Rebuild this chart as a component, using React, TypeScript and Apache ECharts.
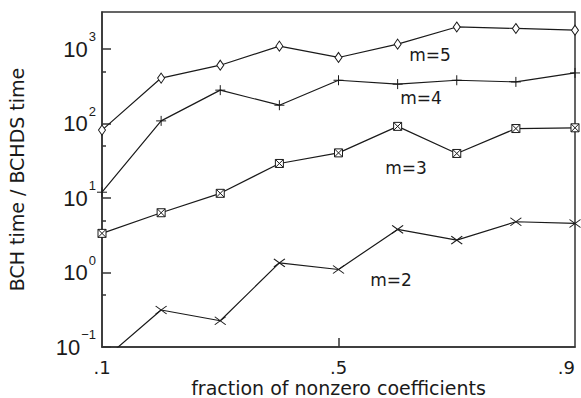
import React, { useEffect, useRef } from "react";
import * as echarts from "echarts";

const xValues = [0.1, 0.2, 0.3, 0.4, 0.5, 0.6, 0.7, 0.8, 0.9];
const m5 = [82, 410, 610, 1100, 775, 1170, 1990, 1900, 1800];
const m4 = [12, 109, 282, 177, 383, 340, 383, 364, 480];
const m3 = [3.36, 6.36, 11.6, 29.2, 40.5, 92, 39.8, 86, 88];
const m2 = [0.065, 0.314, 0.225, 1.35, 1.1, 3.8, 2.73, 4.81, 4.57];
const seriesNames = ["m=5", "m=4", "m=3", "m=2"];
const xLabelValues = [0.1, 0.5, 0.9];
const yLabelValues = [0.1, 1, 10, 100, 1000];
const yMinorValues = [0.5, 5, 50, 500];
const xTitle = "fraction of nonzero coefficients";
const yTitle = "BCH time / BCHDS time";

const INK = "#1a1a1a";
const SANS = "DejaVu Sans";

const SYM_DIAMOND = "diamond";
const SYM_PLUS = "path://M5 0V10M0 5H10";
const SYM_BOXX = "path://M0 0H10V10H0ZM0 0L10 10M10 0L0 10";
const SYM_X = "path://M0 0L10 10M10 0L0 10";

function pair(vals: number[]) {
  return vals.map((v, i) => [xValues[i], v]);
}

export default function App() {
  const ref = useRef<HTMLDivElement>(null);
  useEffect(() => {
    if (!ref.current) return;
    const chart = echarts.init(ref.current, null, { renderer: "svg" });
    const lineStyle = { color: INK, width: 1.2 };
    const mk = (name: string, data: number[], symbol: string, size: any) => ({
      name,
      type: "line",
      data: pair(data),
      symbol,
      symbolSize: size,
      showAllSymbol: true,
      clip: true,
      lineStyle,
      itemStyle: { color: "#fff", borderColor: INK, borderWidth: 1 },
      z: 3,
    });
    chart.setOption({
      animation: false,
      backgroundColor: "#fff",
      grid: {
        left: 102,
        top: 12,
        right: 6,
        bottom: 51,
        containLabel: false,
        outerBoundsMode: "none",
        show: true,
        borderColor: "#333",
        borderWidth: 1.5,
        backgroundColor: "transparent",
      },
      xAxis: {
        type: "value",
        min: 0.1,
        max: 0.9,
        name: xTitle,
        nameLocation: "middle",
        nameMoveOverlap: false,
        nameGap: 31,
        nameTextStyle: { fontFamily: SANS, fontSize: 19, lineHeight: 19, color: INK },
        axisLine: { show: true, lineStyle: { color: "#333", width: 1.5 } },
        axisTick: {
          show: true,
          inside: true,
          length: 9,
          customValues: [0.5],
          lineStyle: { color: "#333", width: 1.5 },
        },
        axisLabel: {
          customValues: xLabelValues,
          margin: 11,
          fontFamily: SANS,
          fontSize: 18,
          lineHeight: 18,
          color: INK,
          alignMaxLabel: "right",
          formatter: (v: number) => String(Math.round(v * 10) / 10).replace("0.", "."),
        },
        splitLine: { show: false },
      },
      yAxis: [
        {
          type: "log",
          logBase: 10,
          min: 0.1,
          max: 3162.2777,
          name: yTitle,
          nameLocation: "middle",
          nameGap: 76,
          nameRotate: 90,
          nameTextStyle: { fontFamily: SANS, fontSize: 19, color: INK },
          axisLine: { show: true, lineStyle: { color: "#333", width: 1.5 } },
          axisTick: {
            show: true,
            inside: true,
            length: 9,
            customValues: yLabelValues,
            lineStyle: { color: "#333", width: 1.5 },
          },
          axisLabel: {
            customValues: yLabelValues,
            margin: 6,
            formatter: (v: number) => {
              const e = Math.round(Math.log10(v));
              return "{b|10}{s|" + (e < 0 ? "\u2212" + -e : String(e)) + "}";
            },
            rich: {
              b: {
                fontFamily: "Liberation Sans",
                fontSize: 22,
                lineHeight: 22,
                color: INK,
                padding: [8, 0, 8, 0],
              },
              s: {
                fontFamily: "Liberation Sans",
                fontSize: 13,
                lineHeight: 13,
                color: INK,
                padding: [0, 0, 25, 1],
              },
            },
          },
          splitLine: { show: false },
        },
        {
          type: "log",
          logBase: 10,
          min: 0.1,
          max: 3162.2777,
          position: "left",
          axisLine: { show: false },
          axisTick: {
            show: true,
            inside: true,
            length: 4,
            customValues: yMinorValues,
            lineStyle: { color: "#333", width: 1.5 },
          },
          axisLabel: { show: false },
          splitLine: { show: false },
        },
      ],
      series: [
        mk(seriesNames[0], m5, SYM_DIAMOND, [7, 10]),
        mk(seriesNames[1], m4, SYM_PLUS, [10, 10]),
        mk(seriesNames[2], m3, SYM_BOXX, [8, 8]),
        mk(seriesNames[3], m2, SYM_X, [11, 8]),
      ],
      graphic: [
        { type: "text", x: 430, y: 55, style: { text: seriesNames[0], font: `17px '${SANS}'`, fill: INK, align: "center", verticalAlign: "middle" } },
        { type: "text", x: 421, y: 98, style: { text: seriesNames[1], font: `17px '${SANS}'`, fill: INK, align: "center", verticalAlign: "middle" } },
        { type: "text", x: 406, y: 168, style: { text: seriesNames[2], font: `17px '${SANS}'`, fill: INK, align: "center", verticalAlign: "middle" } },
        { type: "text", x: 391, y: 280, style: { text: seriesNames[3], font: `17px '${SANS}'`, fill: INK, align: "center", verticalAlign: "middle" } },
      ],
    });
    return () => chart.dispose();
  }, []);
  return (
    <div
      ref={ref}
      style={{ position: "fixed", left: 0, top: 0, width: 581, height: 398, background: "#fff" }}
    />
  );
}
